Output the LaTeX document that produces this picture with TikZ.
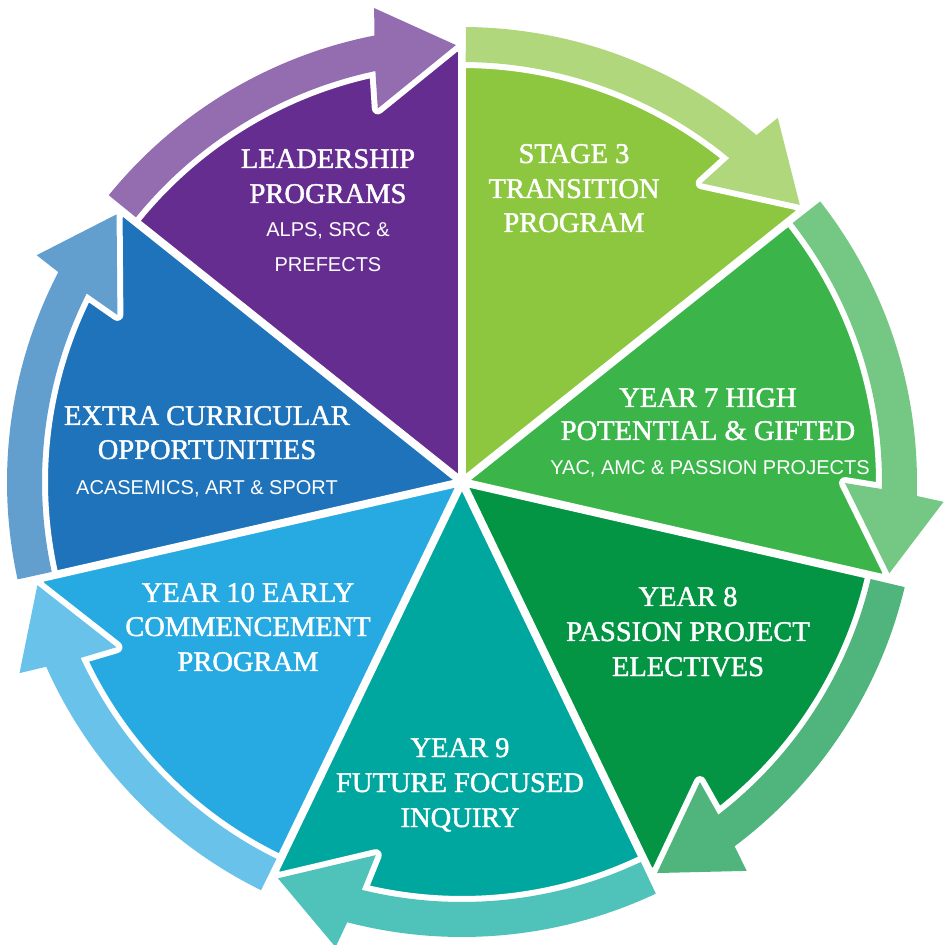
\documentclass[tikz,border=0pt]{standalone}
\usepackage{fontspec}
\setmainfont{Liberation Serif}
\newfontfamily\titlefont[FakeBold=1.5]{Liberation Serif}
\newfontfamily\subfont{Liberation Sans}
\definecolor{sPurple}{RGB}{102,45,145}
\definecolor{aPurple}{RGB}{148,108,176}
\definecolor{sLime}{RGB}{141,198,63}
\definecolor{aLime}{RGB}{176,215,124}
\definecolor{sGreen}{RGB}{59,181,74}
\definecolor{aGreen}{RGB}{117,200,131}
\definecolor{sDGreen}{RGB}{3,148,68}
\definecolor{aDGreen}{RGB}{80,180,125}
\definecolor{sTeal}{RGB}{0,167,158}
\definecolor{aTeal}{RGB}{79,194,185}
\definecolor{sLBlue}{RGB}{39,170,225}
\definecolor{aLBlue}{RGB}{104,194,234}
\definecolor{sDBlue}{RGB}{31,115,187}
\definecolor{aDBlue}{RGB}{98,159,207}
% sector: #1 start angle, #2 end angle, #3 colour
\newcommand\wheelsector[3]{\fill[#3] (0pt,0pt) -- (#1:430pt) arc[start angle=#1, end angle=#2, radius=430pt] -- cycle;}
% arrow: #1 tail angle, #2 tip angle, #3 path options
\newcommand\wheelarrow[3]{\path[#3] (#1:455pt) arc[start angle=#1, end angle={#2+10.3}, radius=455pt]
  -- ({#2+9.7}:482pt) -- (#2:437pt) -- ({#2+11.9}:383pt) -- ({#2+11.1}:420pt)
  arc[start angle={#2+11.1}, end angle=#1, radius=420pt] -- cycle;}
\tikzset{
  title/.style={text=white, font=\titlefont\fontsize{28.5}{34}\selectfont, anchor=base, inner sep=0pt},
  sub/.style={text=white, font=\subfont\fontsize{20}{24}\selectfont, anchor=base, inner sep=0pt},
  outline/.style={draw=white, line width=12pt, line join=round}
}
\begin{document}
\begin{tikzpicture}
\useasboundingbox (-462pt,-463pt) rectangle (484pt,482pt);
% sectors
\wheelsector{90}{141.43}{sPurple}
\wheelsector{141.43}{192.86}{sDBlue}
\wheelsector{192.86}{244.29}{sLBlue}
\wheelsector{244.29}{295.71}{sTeal}
\wheelsector{295.71}{347.14}{sDGreen}
\wheelsector{347.14}{398.57}{sGreen}
\wheelsector{38.57}{90}{sLime}
% dividers
\foreach \a in {90,141.43,192.86,244.29,295.71,347.14,38.57}
  \draw[white, line width=8pt] (0pt,0pt) -- (\a:445pt);
% arrow outlines
\wheelarrow{140.93}{90.8}{outline}
\wheelarrow{192.36}{142.23}{outline}
\wheelarrow{243.79}{193.66}{outline}
\wheelarrow{295.21}{245.09}{outline}
\wheelarrow{346.64}{296.51}{outline}
\wheelarrow{398.07}{347.94}{outline}
\wheelarrow{89.5}{39.37}{outline}
% arrow fills
\wheelarrow{140.93}{90.8}{fill=aPurple}
\wheelarrow{192.36}{142.23}{fill=aDBlue}
\wheelarrow{243.79}{193.66}{fill=aLBlue}
\wheelarrow{295.21}{245.09}{fill=aTeal}
\wheelarrow{346.64}{296.51}{fill=aDGreen}
\wheelarrow{398.07}{347.94}{fill=aGreen}
\wheelarrow{89.5}{39.37}{fill=aLime}
% texts
\node[title] (lp1) at (-134pt,314pt) {LEADERSHIP};
\node[title] (lp2) at (-134pt,279pt) {PROGRAMS};
\node[sub]   (lp3) at (-134pt,245pt) {ALPS, SRC \&};
\node[sub]   (lp4) at (-134pt,210pt) {PREFECTS};
\node[title] (st1) at (112pt,319pt) {STAGE 3};
\node[title] (st2) at (112pt,284pt) {TRANSITION};
\node[title] (st3) at (112pt,250pt) {PROGRAM};
\node[title] (y71) at (246pt,75pt) {YEAR 7 HIGH};
\node[title] (y72) at (246pt,42pt) {POTENTIAL \& GIFTED};
\node[sub]   (y73) at (248pt,7pt) {YAC, AMC \& PASSION PROJECTS};
\node[title] (y81) at (226pt,-124pt) {YEAR 8};
\node[title] (y82) at (226pt,-159pt) {PASSION PROJECT};
\node[title] (y83) at (226pt,-194pt) {ELECTIVES};
\node[title] (y91) at (-2pt,-275pt) {YEAR 9};
\node[title] (y92) at (-2pt,-310pt) {FUTURE FOCUSED};
\node[title] (y93) at (-2pt,-345pt) {INQUIRY};
\node[title] (y101) at (-214pt,-120pt) {YEAR 10 EARLY};
\node[title] (y102) at (-214pt,-154pt) {COMMENCEMENT};
\node[title] (y103) at (-214pt,-189pt) {PROGRAM};
\node[title] (ec1) at (-255pt,57pt) {EXTRA CURRICULAR};
\node[title] (ec2) at (-255pt,23pt) {OPPORTUNITIES};
\node[sub]   (ec3) at (-255pt,-13pt) {ACASEMICS, ART \& SPORT};
\end{tikzpicture}
\end{document}
